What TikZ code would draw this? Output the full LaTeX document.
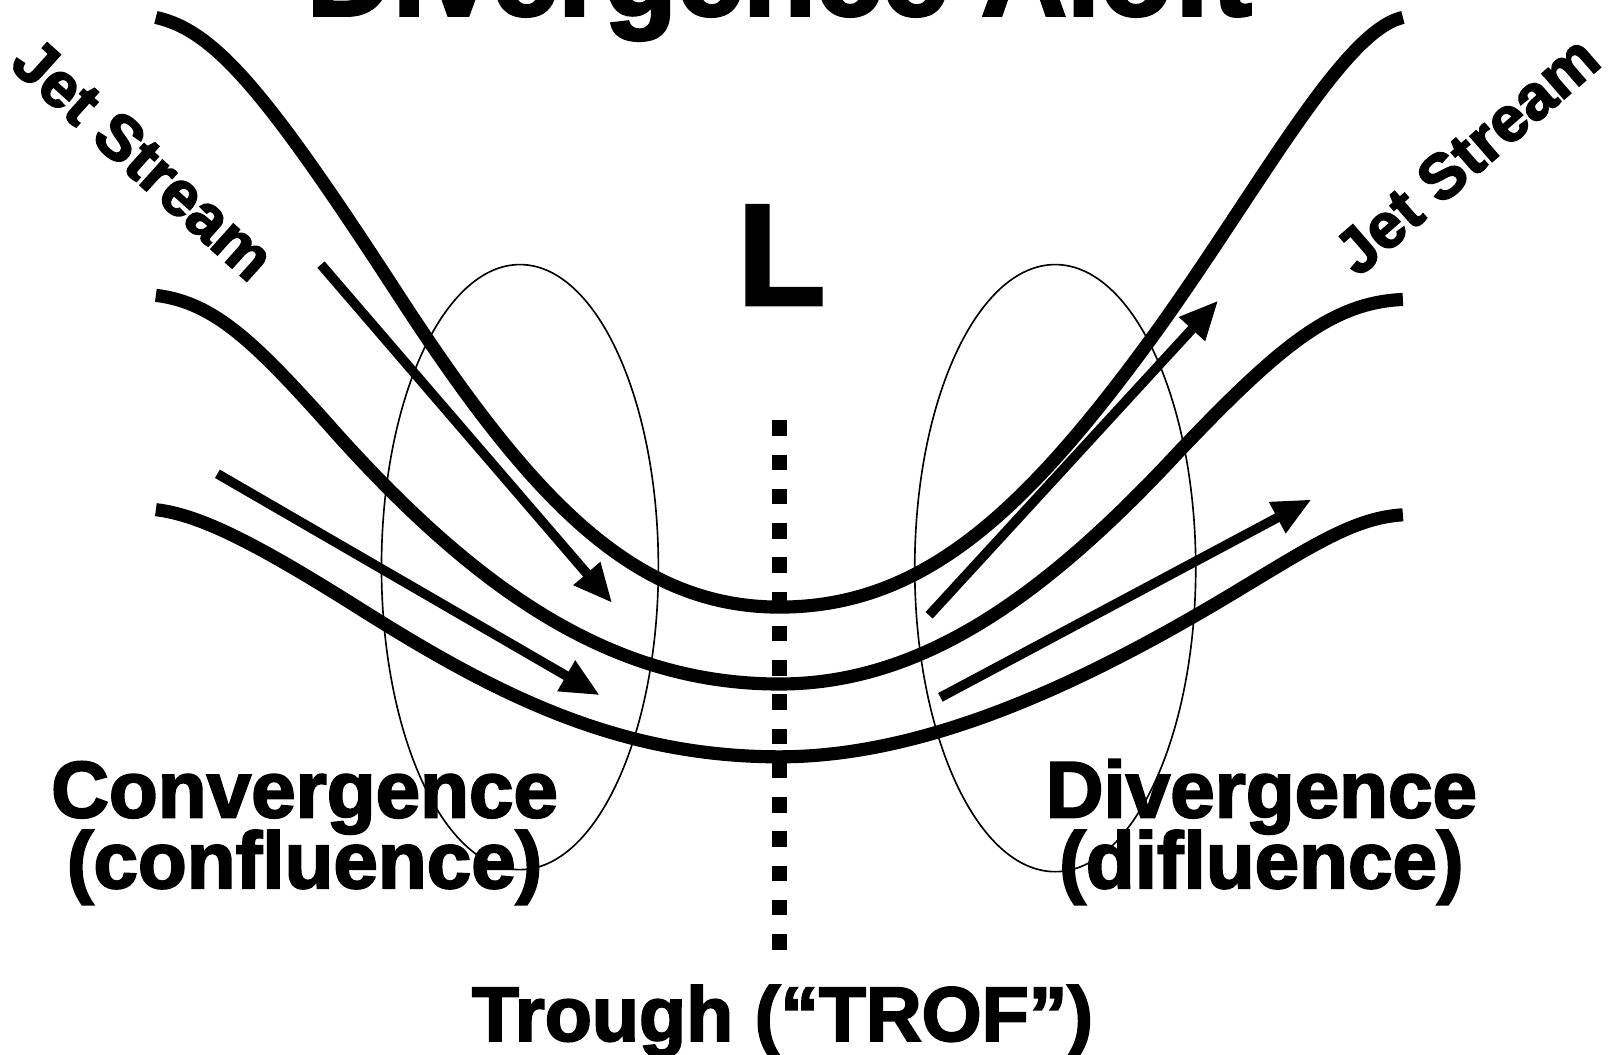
\documentclass[tikz,border=0pt]{standalone}
\usepackage{fontspec}
\newfontfamily\hv{Liberation Sans}[BoldFeatures={FakeBold=2.5}]
\usetikzlibrary{arrows.meta}
\begin{document}
\begin{tikzpicture}[x=0.25pt,y=-0.25pt,
  stream/.style={line width=3.2pt, line cap=butt},
  flow/.style={line width=2.35pt, -{Triangle[length=9.5pt,width=8pt]}},
  zone/.style={line width=0.4pt},
  trofline/.style={line width=3.6pt, dash pattern=on 3.75pt off 4.6pt},
  lbl/.style={font=\hv\bfseries\fontsize{19.5}{23}\selectfont, inner sep=0pt},
  trl/.style={font=\hv\bfseries\fontsize{18.8}{23}\selectfont, inner sep=0pt},
  jet/.style={font=\hv\bfseries\fontsize{15.5}{18}\selectfont, inner sep=0pt},
  bigL/.style={font=\hv\bfseries\fontsize{35}{40}\selectfont, inner sep=0pt},
  ttl/.style={font=\hv\bfseries\fontsize{29}{34}\selectfont, inner sep=0pt}]
\clip (0,0) rectangle (1568,1028);
\fill[white] (0,0) rectangle (1568,1028);

% title (cut off at top)
\node[ttl, anchor=base] (title) at (760,15) {Divergence Aloft};

% zones
\draw[zone] (507,553) ellipse [x radius=135, y radius=295];
\draw[zone] (1029,554) ellipse [x radius=137, y radius=296];

% trough axis
\coordinate (t1) at (760,410);
\coordinate (t2) at (760,930);
\draw[trofline] (t1) -- (t2);

% jet stream lines
\draw[stream] (152,17) .. controls (210,30) and (260,90) .. (390,290)
  .. controls (520,490) and (620,592) .. (760,592)
  .. controls (900,592) and (1000,500) .. (1130,320)
  .. controls (1230,180) and (1310,30) .. (1368,17);
\draw[stream] (152,288) .. controls (210,295) and (250,335) .. (330,425)
  .. controls (470,580) and (600,667) .. (760,667)
  .. controls (900,667) and (1020,580) .. (1150,440)
  .. controls (1250,335) and (1300,295) .. (1368,292);
\draw[stream] (152,497) .. controls (195,502) and (250,530) .. (350,593)
  .. controls (480,675) and (600,738) .. (760,738)
  .. controls (900,738) and (1050,670) .. (1200,580)
  .. controls (1280,532) and (1320,505) .. (1368,502);

% flow arrows
\coordinate (a1s) at (313,258); \coordinate (a1e) at (597,588);
\coordinate (a2s) at (212,462); \coordinate (a2e) at (585,678);
\coordinate (a3s) at (906,600); \coordinate (a3e) at (1188,293);
\coordinate (a4s) at (917,680); \coordinate (a4e) at (1279,487);
\draw[flow] (a1s) -- (a1e);
\draw[flow] (a2s) -- (a2e);
\draw[flow] (a3s) -- (a3e);
\draw[flow] (a4s) -- (a4e);

% labels
\node[bigL, anchor=base] (low) at (762,297) {L};
\node[jet, rotate=-42] (jetl) at (140,155) {Jet Stream};
\node[jet, rotate=41] (jetr) at (1430,151) {Jet Stream};
\node[lbl, anchor=base] (conv) at (297,797) {Convergence};
\node[lbl, anchor=base] (conf) at (297,866) {(confluence)};
\node[lbl, anchor=base] (div) at (1230,797) {Divergence};
\node[lbl, anchor=base] (difl) at (1230,866) {(difluence)};
\node[trl, anchor=base] (trough) at (763,1015) {Trough (“TROF”)};
\end{tikzpicture}
\end{document}
